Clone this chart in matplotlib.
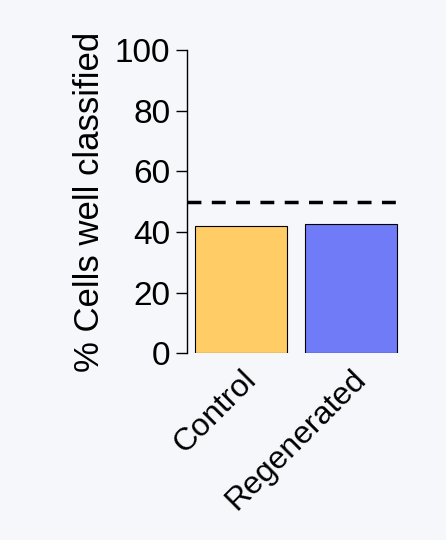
import matplotlib
matplotlib.use("Agg")
import matplotlib.pyplot as plt

groups = ["Control", "Regenerated"]
values = [42.0, 42.5]
colors = ["#FFCC66", "#6F7BF7"]
chance_level = 50
yticks = [0, 20, 40, 60, 80, 100]

plt.rcParams['font.family'] = ['Liberation Sans', 'DejaVu Sans']

fig = plt.figure(figsize=(4.46, 5.4), dpi=100)
fig.patch.set_facecolor("#f5f7fa")
ax = fig.add_axes([0.419, 0.346, 0.478, 0.561])
ax.set_facecolor("#f5f7fa")

ax.bar(range(len(groups)), values, width=0.836, color=colors,
       edgecolor="black", linewidth=0.8)
ax.axhline(chance_level, color="black", linewidth=2.5, linestyle=(0, (4, 3)))

ax.set_xlim(-0.49, 1.445)
ax.set_ylim(0, 100)
ax.set_yticks(yticks)
ax.tick_params(axis="y", labelsize=24, length=8, width=1, pad=4)
ax.tick_params(axis="x", length=0, labelsize=23, pad=8)
ax.set_xticks(range(len(groups)))
ax.set_xticklabels(groups, rotation=45, ha="right", rotation_mode="anchor")
ax.set_ylabel("% Cells well classified", fontsize=25, labelpad=6)

for side in ["top", "right", "bottom"]:
    ax.spines[side].set_visible(False)
ax.spines["left"].set_linewidth(1)

fig.savefig("out.png", dpi=100, facecolor=fig.get_facecolor())
